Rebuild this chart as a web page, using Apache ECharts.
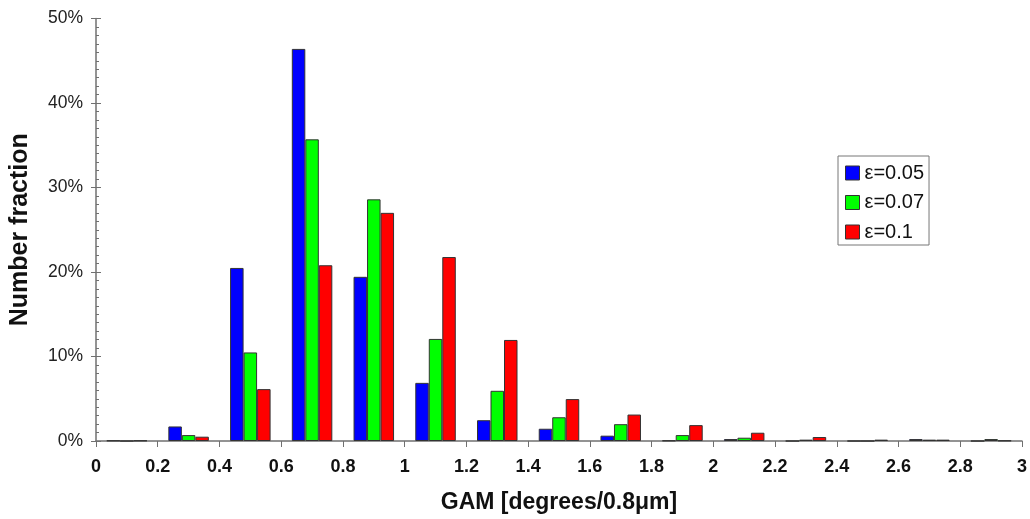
<!DOCTYPE html>
<html>
<head>
<meta charset="utf-8">
<script src="https://cdn.jsdelivr.net/npm/echarts@6/dist/echarts.min.js"></script>
<style>
  html, body { margin: 0; padding: 0; background: #fff; }
  #main { width: 1030px; height: 519px; }
</style>
</head>
<body>
<div id="main"></div>
<script>
// bin centres (GAM, degrees/0.8µm)
var binCenters = [0.1, 0.3, 0.5, 0.7, 0.9, 1.1, 1.3, 1.5, 1.7, 1.9, 2.1, 2.3, 2.5, 2.7, 2.9]
// number fraction in %
var eps005 = [0.05, 1.72, 20.48, 46.4, 19.43, 6.88, 2.46, 1.45, 0.63, 0.05, 0.23, 0, 0, 0.23, 0]
var eps007 = [0, 0.70, 10.48, 35.7, 28.6, 12.08, 5.94, 2.81, 1.99, 0.70, 0.39, 0.16, 0, 0.16, 0.23]
var eps010 = [0.05, 0.51, 6.14, 20.8, 27.0, 21.77, 11.96, 4.96, 3.13, 1.88, 0.98, 0.47, 0.16, 0.16, 0.05]
var seriesNames = ['ε=0.05', 'ε=0.07', 'ε=0.1']
var seriesColors = ['#0000ff', '#00ff00', '#ff0000']

var chart = echarts.init(document.getElementById('main'))

function pairs(vals) {
  return binCenters.map(function (x, i) { return [x, vals[i]] })
}

var axisGray = '#707070'

var series = [eps005, eps007, eps010].map(function (vals, i) {
  return {
    name: seriesNames[i],
    type: 'bar',
    data: pairs(vals),
    barWidth: 13.5,
    barGap: '0%',
    itemStyle: { color: seriesColors[i], borderColor: '#333', borderWidth: 1 },
    animation: false
  }
})

chart.setOption({
  animation: false,
  textStyle: { fontFamily: 'Liberation Sans, Arial, sans-serif' },
  grid: { left: 94, right: 4.5, top: 18.5, bottom: 74.5 },
  legend: {
    orient: 'vertical',
    left: 838,
    top: 156,
    width: 95,
    padding: [7, 5, 3, 7],
    itemGap: 9.5,
    itemWidth: 14,
    itemHeight: 14,
    borderColor: '#777',
    borderWidth: 1,
    icon: 'rect',
    itemStyle: { borderColor: '#333', borderWidth: 1 },
    textStyle: { fontSize: 20, lineHeight: 20, color: '#111' },
    data: seriesNames
  },
  xAxis: {
    type: 'value',
    min: 0,
    max: 3,
    interval: 0.2,
    name: 'GAM [degrees/0.8μm]',
    nameLocation: 'middle',
    nameGap: 50,
    nameTextStyle: { fontSize: 23, fontWeight: 'bold', color: '#111' },
    axisLine: { show: true, lineStyle: { color: axisGray, width: 1.5 } },
    axisTick: { show: true, length: 6, lineStyle: { color: axisGray } },
    splitLine: { show: false },
    axisLabel: {
      fontSize: 18,
      fontWeight: 'bold',
      color: '#111',
      margin: 17,
      showMaxLabel: true,
      formatter: function (v) { return String(+v.toFixed(1)) }
    }
  },
  yAxis: [
    {
      type: 'value',
      min: 0,
      max: 50,
      interval: 10,
      name: 'Number fraction',
      nameLocation: 'middle',
      nameGap: 63,
      nameTextStyle: { fontSize: 25, fontWeight: 'bold', color: '#111' },
      axisLine: { show: true, lineStyle: { color: axisGray, width: 1.5 } },
      axisTick: { show: true, inside: true, length: 5, lineStyle: { color: axisGray } },
      minorTick: { show: true, splitNumber: 10, length: 3, lineStyle: { color: axisGray } },
      splitLine: { show: false },
      axisLabel: { fontSize: 17.5, color: '#222', margin: 13, formatter: '{value}%' }
    },
    {
      type: 'value',
      position: 'left',
      min: 0,
      max: 50,
      interval: 10,
      axisLine: { show: false },
      axisTick: { show: true, length: 5, lineStyle: { color: axisGray } },
      axisLabel: { show: false },
      splitLine: { show: false }
    }
  ],
  series: series
})
</script>
</body>
</html>
